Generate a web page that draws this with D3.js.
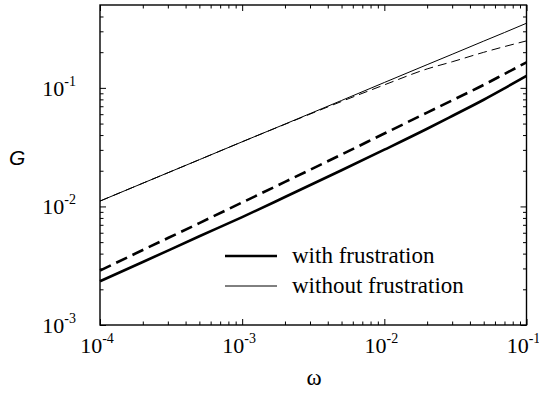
<!DOCTYPE html>
<html lang="en">
<head>
    <meta charset="utf-8">
    <script src="https://d3js.org/d3.v7.min.js"></script>
    <title>G vs omega</title>
    <style>
        body { margin: 0; background: #fff; }
        svg { display: block; }
    </style>
</head>
<body>
    <div id="container"></div>
    <script>
        // values
        const omega = [1e-4, 2e-4, 5e-4, 1e-3, 2e-3, 5e-3, 1e-2, 2e-2, 3e-2, 5e-2, 7e-2, 1e-1];
        const withFrustSolid = [0.00234, 0.00340, 0.00560, 0.00813, 0.0120, 0.0202, 0.0301, 0.0452, 0.0579, 0.0794, 0.0991, 0.126];
        const withFrustDashed = [0.00288, 0.00429, 0.00724, 0.0108, 0.0161, 0.0274, 0.0412, 0.0619, 0.0785, 0.106, 0.131, 0.164];
        const withoutFrustSolid = [0.0111, 0.0157, 0.0248, 0.0351, 0.0495, 0.0783, 0.111, 0.157, 0.192, 0.248, 0.293, 0.351];
        const withoutFrustDashed = [0.0111, 0.0157, 0.0248, 0.0351, 0.0493, 0.0768, 0.106, 0.1445, 0.166, 0.1995, 0.223, 0.249];

        const xMajor = [1e-4, 1e-3, 1e-2, 1e-1];
        const xMajorExp = ["-4", "-3", "-2", "-1"];
        const yMajor = [1e-3, 1e-2, 1e-1];
        const yMajorExp = ["-3", "-2", "-1"];
        const legendLabels = ["with frustration", "without frustration"];

        const w = 539;
        const h = 394;
        const pLeft = 100, pRight = 526.5, pTop = 5, pBottom = 325;
        const SERIF = "Tinos, 'DejaVu Serif', serif";

        const svg = d3.select("#container").append("svg").attr("width", w).attr("height", h);

        const xScale = d3.scaleLog().domain([1e-4, 1e-1]).range([pLeft, pRight]);
        const yScale = d3.scaleLog().domain([1e-3, 0.5]).range([pBottom, pTop]);

        // minor ticks 2..9 for each decade
        const xMinor = [];
        [1e-4, 1e-3, 1e-2].forEach(d => { for (let k = 2; k < 10; k++) xMinor.push(d * k); });
        const yMinor = [];
        [1e-3, 1e-2, 1e-1].forEach(d => { for (let k = 2; k < 10; k++) if (d * k < 0.5) yMinor.push(d * k); });

        function drawTicks(axisFn, scale, vals, size, tr) {
            svg.append("g")
               .attr("transform", tr)
               .call(axisFn(scale).tickValues(vals).tickSizeInner(size).tickSizeOuter(0).tickFormat(""))
               .call(g => g.select(".domain").remove())
               .call(g => g.selectAll("line").attr("stroke", "#000").attr("stroke-width", 1));
        }
        // ticks point inward on all four sides
        drawTicks(d3.axisBottom, xScale, xMajor, -6, "translate(0," + pBottom + ")");
        drawTicks(d3.axisBottom, xScale, xMinor, -3.5, "translate(0," + pBottom + ")");
        drawTicks(d3.axisTop, xScale, xMajor, -6, "translate(0," + pTop + ")");
        drawTicks(d3.axisTop, xScale, xMinor, -3.5, "translate(0," + pTop + ")");
        drawTicks(d3.axisLeft, yScale, yMajor, -6, "translate(" + pLeft + ",0)");
        drawTicks(d3.axisLeft, yScale, yMinor, -3.5, "translate(" + pLeft + ",0)");
        drawTicks(d3.axisRight, yScale, yMajor, -6, "translate(" + pRight + ",0)");
        drawTicks(d3.axisRight, yScale, yMinor, -3.5, "translate(" + pRight + ",0)");

        svg.append("rect")
           .attr("x", pLeft).attr("y", pTop)
           .attr("width", pRight - pLeft).attr("height", pBottom - pTop)
           .attr("fill", "none").attr("stroke", "#000").attr("stroke-width", 1.4);

        // tick labels 10^n
        const xLab = svg.append("g").selectAll("text")
           .data(xMajor)
           .enter()
           .append("text")
           .attr("font-family", SERIF)
           .attr("x", d => xScale(d) - 3)
           .attr("y", 353)
           .attr("text-anchor", "middle")
           .attr("font-size", 22);
        xLab.append("tspan").text("10");
        xLab.append("tspan").attr("dy", -10).attr("font-size", 14).text((d, i) => xMajorExp[i]);

        const yLab = svg.append("g").selectAll("text")
           .data(yMajor)
           .enter()
           .append("text")
           .attr("font-family", SERIF)
           .attr("x", 76)
           .attr("y", d => yScale(d) + 8)
           .attr("text-anchor", "end")
           .attr("font-size", 22);
        yLab.append("tspan").text("10");
        yLab.append("tspan").attr("dy", -10).attr("font-size", 14).text((d, i) => yMajorExp[i]);

        // axis titles
        svg.append("text")
           .attr("font-family", "Liberation Sans")
           .attr("x", 9).attr("y", 165)
           .attr("font-style", "italic")
           .attr("font-size", 21)
           .text("G");
        svg.append("text")
           .attr("font-family", SERIF)
           .attr("x", 314).attr("y", 385)
           .attr("text-anchor", "middle")
           .attr("font-size", 23)
           .text("ω");

        // curves
        const line = d3.line()
           .x(d => xScale(d[0]))
           .y(d => yScale(d[1]))
           .curve(d3.curveMonotoneX);
        const series = [
            { vals: withoutFrustSolid, width: 1, dash: null },
            { vals: withoutFrustDashed, width: 1, dash: "9,5" },
            { vals: withFrustDashed, width: 2.6, dash: "12,6" },
            { vals: withFrustSolid, width: 2.6, dash: null }
        ];
        svg.append("g").selectAll("path")
           .data(series)
           .enter()
           .append("path")
           .attr("d", s => line(omega.map((o, i) => [o, s.vals[i]])))
           .attr("fill", "none")
           .attr("stroke", "#000")
           .attr("stroke-width", s => s.width)
           .attr("stroke-dasharray", s => s.dash);

        // legend
        const legend = svg.append("g").attr("id", "legend");
        legend.selectAll("line")
           .data(legendLabels)
           .enter()
           .append("line")
           .attr("x1", 225).attr("x2", 277)
           .attr("y1", (d, i) => 256 + i * 30)
           .attr("y2", (d, i) => 256 + i * 30)
           .attr("stroke", "#000")
           .attr("stroke-width", (d, i) => i === 0 ? 2.6 : 1);
        legend.selectAll("text")
           .data(legendLabels)
           .enter()
           .append("text")
           .attr("font-family", SERIF)
           .attr("x", 292)
           .attr("y", (d, i) => 263 + i * 30)
           .attr("font-size", 23)
           .text(d => d);
    </script>
</body>
</html>
